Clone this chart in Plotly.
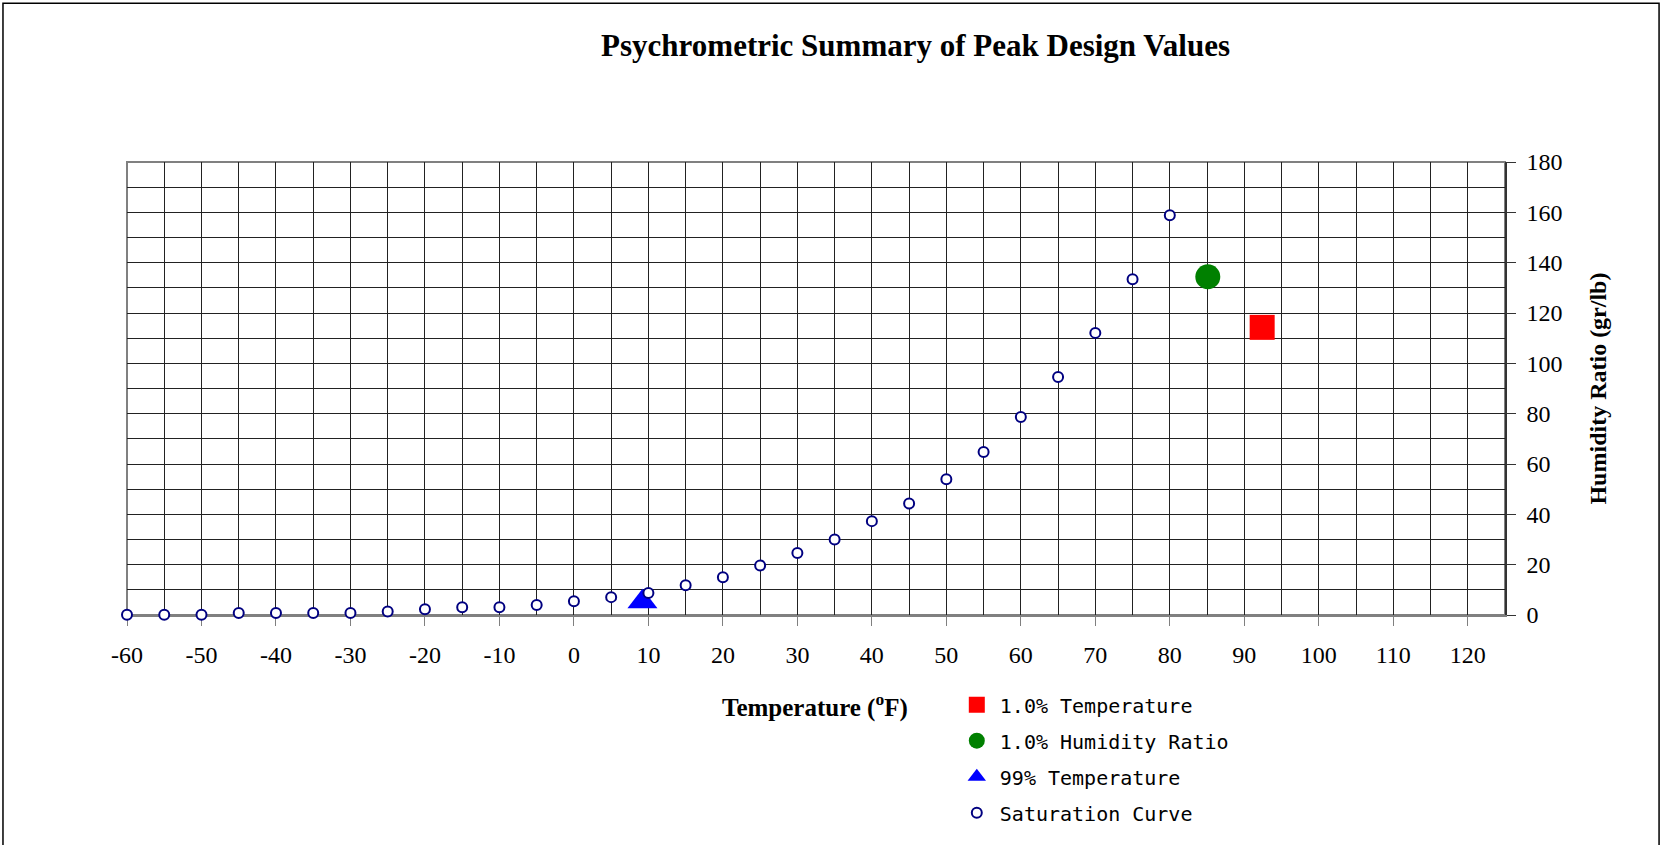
import plotly.graph_objects as go

# ---- data ----
sat_temp = [-60, -55, -50, -45, -40, -35, -30, -25, -20, -15, -10, -5, 0, 5, 10,
            15, 20, 25, 30, 35, 40, 45, 50, 55, 60, 65, 70, 75, 80]
sat_hum = [0.1, 0.1, 0.1, 0.8, 0.8, 0.8, 0.8, 1.4, 2.3, 3.1, 3.1, 4.0, 5.5, 7.1, 8.7,
           11.8, 15.0, 19.7, 24.6, 30.0, 37.3, 44.3, 53.9, 64.8, 78.7, 94.6, 112.1, 133.4, 158.8]

temp1_x = [92.4]
temp1_y = [114.3]
hum1_x = [85.1]
hum1_y = [134.4]
temp99_x = [9.2]
temp99_y = [5.3]

x_tickvals = [-60, -50, -40, -30, -20, -10, 0, 10, 20, 30, 40, 50, 60, 70, 80, 90, 100, 110, 120]
x_ticktext = ["-60", "-50", "-40", "-30", "-20", "-10", "0", "10", "20", "30", "40",
              "50", "60", "70", "80", "90", "100", "110", "120"]
y_tickvals = [0, 20, 40, 60, 80, 100, 120, 140, 160, 180]
y_ticktext = ["0", "20", "40", "60", "80", "100", "120", "140", "160", "180"]

SERIF = "Liberation Serif, Times New Roman, serif"
MONO = "DejaVu Sans Mono, monospace"

fig = go.Figure()
fig.add_trace(go.Scatter(x=temp1_x, y=temp1_y, mode="markers", name="1.0% Temperature",
                         legendgroup="a", cliponaxis=False,
                         marker=dict(symbol="square", size=25, color="#FF0000",
                                     line=dict(width=0))))
fig.add_trace(go.Scatter(x=hum1_x, y=hum1_y, mode="markers", name="1.0% Humidity Ratio",
                         legendgroup="b", cliponaxis=False,
                         marker=dict(symbol="circle", size=25, color="#008000",
                                     line=dict(width=0))))
fig.add_trace(go.Scatter(x=temp99_x, y=temp99_y, mode="markers", name="99% Temperature",
                         legendgroup="c", cliponaxis=False,
                         marker=dict(symbol="triangle-up", size=26, color="#0000FF",
                                     line=dict(width=0))))
fig.add_trace(go.Scatter(x=sat_temp, y=sat_hum, mode="markers", name="Saturation Curve",
                         legendgroup="d", cliponaxis=False,
                         marker=dict(symbol="circle", size=10, color="white",
                                     line=dict(width=2, color="#000080"))))

grid_c = "#222222"
fig.update_layout(
    width=1661, height=845,
    paper_bgcolor="white", plot_bgcolor="white",
    margin=dict(l=127, r=156, t=162, b=229.5, pad=0, autoexpand=False),
    title=dict(text="<b>Psychrometric Summary of Peak Design Values</b>",
               font=dict(family=SERIF, size=31, color="black"),
               xref="container", yref="container", x=0.5512, y=0.947,
               xanchor="center", yanchor="middle"),
    font=dict(family=SERIF, color="black"),
    showlegend=True,
    legend=dict(x=0.6, y=-0.155, xanchor="left", yanchor="top",
                font=dict(family=MONO, size=20, color="black"),
                bgcolor="rgba(0,0,0,0)", borderwidth=0, itemwidth=36,
                tracegroupgap=7, traceorder="grouped"),
    xaxis=dict(range=[-60, 125], tickmode="array", tickvals=x_tickvals, ticktext=x_ticktext,
               ticks="outside", ticklen=9, tickcolor="#808080", tickwidth=1,
               showline=True, linecolor="#808080", linewidth=2,
               showgrid=True, gridcolor=grid_c, gridwidth=1,
               minor=dict(tickmode="linear", tick0=-60, dtick=5, showgrid=True,
                          gridcolor=grid_c, gridwidth=1, ticks=""),
               zeroline=False, layer="below traces",
               tickfont=dict(family=SERIF, size=24, color="black"),
               ticklabelstandoff=8),
    yaxis=dict(range=[0, 180], side="right", tickmode="array", tickvals=y_tickvals,
               ticktext=y_ticktext,
               ticks="outside", ticklen=9, tickcolor="#333333", tickwidth=1,
               showline=True, linecolor="#333333", linewidth=1.5,
               showgrid=True, gridcolor=grid_c, gridwidth=1,
               minor=dict(tickmode="linear", tick0=0, dtick=10, showgrid=True,
                          gridcolor=grid_c, gridwidth=1, ticks=""),
               zeroline=False, layer="below traces",
               tickfont=dict(family=SERIF, size=24, color="black"),
               ticklabelstandoff=6),
)

# plot-area border (top/left, gray)
fig.add_shape(type="rect", xref="paper", yref="paper", x0=0, x1=1, y0=0, y1=1,
              line=dict(color="#808080", width=2), layer="between")
# outer chart frame
fig.add_shape(type="rect", xref="paper", yref="paper", x0=-0.09, x1=1.1118,
              y0=-0.53, y1=1.3506, line=dict(color="#000000", width=1.5), layer="below")

fig.add_annotation(text="<b>Temperature (<sup>o</sup>F)</b>", xref="paper", yref="paper",
                   x=0.4993, y=-0.1996, xanchor="center", yanchor="middle",
                   showarrow=False, font=dict(family=SERIF, size=25, color="black"))
fig.add_annotation(text="<b>Humidity Ratio (gr/lb)</b>", xref="paper", yref="paper",
                   x=1.0668, y=0.5, xanchor="center", yanchor="middle", textangle=-90,
                   showarrow=False, font=dict(family=SERIF, size=24, color="black"))

fig.write_html("out.html", config={"displayModeBar": False},
               post_script="document.body.style.margin='0';document.body.style.overflow='hidden';")
